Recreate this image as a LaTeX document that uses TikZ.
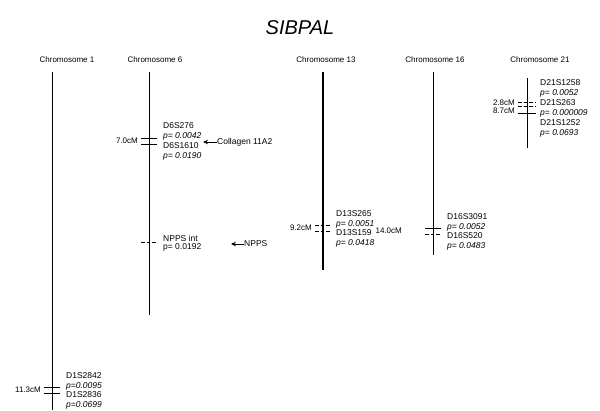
\documentclass[tikz,border=0pt]{standalone}
\usepackage{fontspec}
\setmainfont{Liberation Sans}
\usepackage{tikz}
\usetikzlibrary{arrows.meta, positioning}
\tikzset{
    myarrow/.style={-{Stealth[length=5pt,width=4.5pt]}, line width=0.7pt},
    chrom/.style={draw, line width=0.8pt},
    cmtick/.style={draw, line width=0.7pt},
    cmdash/.style={cmtick, dash pattern=on 3.5pt off 2pt},
    chrlabel/.style={font=\fontsize{8}{9}\selectfont, inner sep=0pt},
    mk/.style={font=\fontsize{8.5}{9}\selectfont, anchor=west, inner sep=0pt},
    pv/.style={mk, font=\fontsize{8.5}{9}\selectfont\itshape},
    cmlabel/.style={font=\fontsize{8}{9}\selectfont, anchor=east, inner sep=0pt},
    titletext/.style={font=\fontsize{20}{22}\selectfont\itshape}
}

\begin{document}
\begin{tikzpicture}[x=1pt, y=-1pt]
    \useasboundingbox (0,0) rectangle (600,410);
    \node (title) [titletext] at (300,28) {SIBPAL};

    % chromosome names
    \node (c1) [chrlabel] at (67,60) {Chromosome 1};
    \node (c6) [chrlabel] at (155,60) {Chromosome 6};
    \node (c13) [chrlabel] at (326,60) {Chromosome 13};
    \node (c16) [chrlabel] at (435,60) {Chromosome 16};
    \node (c21) [chrlabel] at (540,60) {Chromosome 21};

    % chromosome lines
    \coordinate (c1t) at (52,72);   \coordinate (c1b) at (52,410);
    \coordinate (c6t) at (149,72);  \coordinate (c6b) at (149,315);
    \coordinate (c13t) at (323,72); \coordinate (c13b) at (323,270);
    \coordinate (c16t) at (433,72); \coordinate (c16b) at (433,255);
    \coordinate (c21t) at (527,78); \coordinate (c21b) at (527,148);
    \draw [chrom] (c1t) -- (c1b);
    \draw [chrom] (c6t) -- (c6b);
    \draw [chrom, line width=1.2pt] (c13t) -- (c13b);
    \draw [chrom] (c16t) -- (c16b);
    \draw [chrom] (c21t) -- (c21b);

    % chromosome 1
    \draw [cmtick] (44,387) -- (60,387);
    \draw [cmtick] (44,393) -- (60,393);
    \node (cm1) [cmlabel] at (41,390) {11.3cM};
    \node (d1a) [mk] at (66,376) {D1S2842};
    \node (p1a) [pv] at (66,386) {p=0.0095};
    \node (d1b) [mk] at (66,395) {D1S2836};
    \node (p1b) [pv] at (66,405) {p=0.0699};

    % chromosome 6
    \draw [cmtick] (141,138) -- (157,138);
    \draw [cmtick] (141,144) -- (157,144);
    \node (cm6) [cmlabel] at (138,141) {7.0cM};
    \node (d6a) [mk] at (163,126) {D6S276};
    \node (p6a) [pv] at (163,136) {p= 0.0042};
    \node (d6b) [mk] at (163,146) {D6S1610};
    \node (p6b) [pv] at (163,156) {p= 0.0190};
    \node (coll) [mk] at (217,142) {Collagen 11A2};
    \coordinate (collt) at (203,142);
    \draw [myarrow] (coll.west) -- (collt);

    \draw [cmdash] (141,242) -- (157,242);
    \node (npa) [mk] at (163,238) {NPPS int};
    \node (npb) [mk] at (163,247) {p= 0.0192};
    \node (npps) [mk] at (244,244) {NPPS};
    \coordinate (nppst) at (231,244);
    \draw [myarrow] (npps.west) -- (nppst);

    % chromosome 13
    \draw [cmdash] (315,225) -- (331,225);
    \draw [cmdash] (315,231) -- (331,231);
    \node (cm13) [cmlabel] at (312,228) {9.2cM};
    \node (d13a) [mk] at (336,214) {D13S265};
    \node (p13a) [pv] at (336,224) {p= 0.0051};
    \node (d13b) [mk] at (336,233) {D13S159};
    \node (p13b) [pv] at (336,243) {p= 0.0418};

    % chromosome 16
    \draw [cmtick] (425,228) -- (441,228);
    \draw [cmdash] (425,234) -- (441,234);
    \node (cm16) [cmlabel] at (402,231) {14.0cM};
    \node (d16a) [mk] at (447,217) {D16S3091};
    \node (p16a) [pv] at (447,227) {p= 0.0052};
    \node (d16b) [mk] at (447,236) {D16S520};
    \node (p16b) [pv] at (447,246) {p= 0.0483};

    % chromosome 21
    \draw [cmdash] (518,102) -- (536,102);
    \draw [cmdash] (518,106) -- (536,106);
    \draw [cmtick] (518,113) -- (536,113);
    \node (cm21a) [cmlabel] at (515,103) {2.8cM};
    \node (cm21b) [cmlabel] at (515,111) {8.7cM};
    \node (d21a) [mk] at (540,83) {D21S1258};
    \node (p21a) [pv] at (540,93) {p= 0.0052};
    \node (d21b) [mk] at (540,103) {D21S263};
    \node (p21b) [pv] at (540,113) {p= 0.000009};
    \node (d21c) [mk] at (540,123) {D21S1252};
    \node (p21c) [pv] at (540,133) {p= 0.0693};
\end{tikzpicture}
\end{document}
